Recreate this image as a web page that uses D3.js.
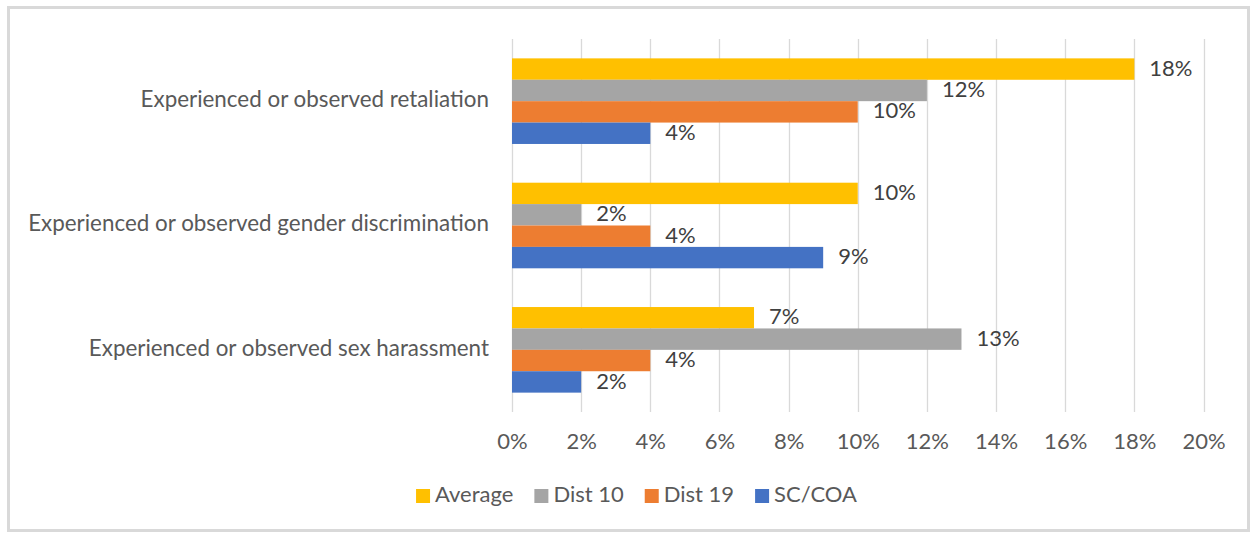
<!DOCTYPE html>
<html>
<head>
<meta charset="utf-8">
<script src="https://cdn.jsdelivr.net/npm/d3@7"></script>
<style>
  html, body { margin: 0; padding: 0; background: #fff; }
  svg { display: block; font-family: Lato, "Open Sans", sans-serif; }
</style>
</head>
<body>
<svg id="chart" width="1252" height="534"></svg>
<script>
// Survey categories, top to bottom
const categories = [
  "Experienced or observed retaliation",
  "Experienced or observed gender discrimination",
  "Experienced or observed sex harassment"
];
// Series names (legend order, top-to-bottom within each group)
const seriesNames = ["Average", "Dist 10", "Dist 19", "SC/COA"];
// Percent values per series, aligned with categories
const averageValues = [18, 10, 7];
const dist10Values = [12, 2, 13];
const dist19Values = [10, 4, 4];
const scCoaValues = [4, 9, 2];
const tickValues = [0, 2, 4, 6, 8, 10, 12, 14, 16, 18, 20];

const seriesValues = [averageValues, dist10Values, dist19Values, scCoaValues];
const colors = ["#FFC000", "#A5A5A5", "#ED7D31", "#4472C4"];
const FONT_SIZE = "22px";

const svg = d3.select("#chart");

// outer chart frame
svg.append("rect")
  .attr("x", 8.5).attr("y", 7.5)
  .attr("width", 1240).attr("height", 523)
  .attr("fill", "#fff")
  .attr("stroke", "#d9d9d9").attr("stroke-width", 3);

const plot = { left: 512, right: 1203.5, top: 39, bottom: 412 };

const x = d3.scaleLinear().domain([0, 20]).range([plot.left, plot.right]);
const y0 = d3.scaleBand().domain(categories).range([plot.top, plot.bottom]).paddingInner(0).paddingOuter(0);
const barH = 21.4;
const y1 = d3.scaleBand().domain(seriesNames)
  .range([(y0.bandwidth() - barH * 4) / 2, (y0.bandwidth() + barH * 4) / 2]);

// vertical gridlines
svg.append("g").selectAll("line").data(tickValues).join("line")
  .attr("x1", d => Math.round(x(d)) + 0.5).attr("x2", d => Math.round(x(d)) + 0.5)
  .attr("y1", plot.top).attr("y2", plot.bottom)
  .attr("stroke", "#d9d9d9").attr("stroke-width", 1.3);

// x axis tick labels
const xAxis = d3.axisBottom(x).tickValues(tickValues).tickFormat(d => d + "%").tickSize(0).tickPadding(0);
const gx = svg.append("g").attr("transform", `translate(0,${plot.bottom})`).call(xAxis);
gx.select(".domain").remove();
gx.selectAll("text")
  .attr("dy", null).attr("y", 31).attr("dominant-baseline", "middle")
  .attr("fill", "#595959").style("font-size", FONT_SIZE).style("font-family", "Lato, sans-serif");

// category labels
const yAxis = d3.axisLeft(y0).tickSize(0).tickPadding(23);
const gy = svg.append("g").attr("transform", `translate(${plot.left},0)`).call(yAxis);
gy.select(".domain").remove();
gy.selectAll("text")
  .attr("dy", null).attr("dominant-baseline", "middle")
  .attr("fill", "#595959").style("font-size", "22.4px").style("font-family", "Lato, sans-serif");

// bars
const rows = [];
categories.forEach((c, i) => {
  seriesNames.forEach((s, j) => rows.push({ cat: c, series: s, value: seriesValues[j][i], color: colors[j] }));
});

const bars = svg.append("g");
bars.selectAll("rect").data(rows).join("rect")
  .attr("x", x(0))
  .attr("y", d => y0(d.cat) + y1(d.series))
  .attr("width", d => x(d.value) - x(0))
  .attr("height", y1.bandwidth())
  .attr("fill", d => d.color);

// value labels
bars.selectAll("text").data(rows).join("text")
  .attr("x", d => x(d.value) + 15)
  .attr("y", d => y0(d.cat) + y1(d.series) + y1.bandwidth() / 2 + 1)
  .attr("dominant-baseline", "middle")
  .attr("fill", "#404040")
  .style("font-size", FONT_SIZE)
  .text(d => d.value + "%");

// legend
const legend = svg.append("g");
const items = legend.selectAll("g").data(seriesNames).join("g");
items.append("rect").attr("width", 14).attr("height", 14).attr("y", -7)
  .attr("fill", (d, i) => colors[i]);
items.append("text").attr("x", 19).attr("dominant-baseline", "middle")
  .attr("fill", "#595959").style("font-size", FONT_SIZE).text(d => d);
const GAP = 21;
let cx = 0;
const offsets = [];
items.each(function () {
  offsets.push(cx);
  cx += 19 + this.querySelector("text").getComputedTextLength() + GAP;
});
const totalW = cx - GAP;
const startX = 636.5 - totalW / 2;
items.attr("transform", (d, i) => `translate(${startX + offsets[i]},496)`);
</script>
</body>
</html>
